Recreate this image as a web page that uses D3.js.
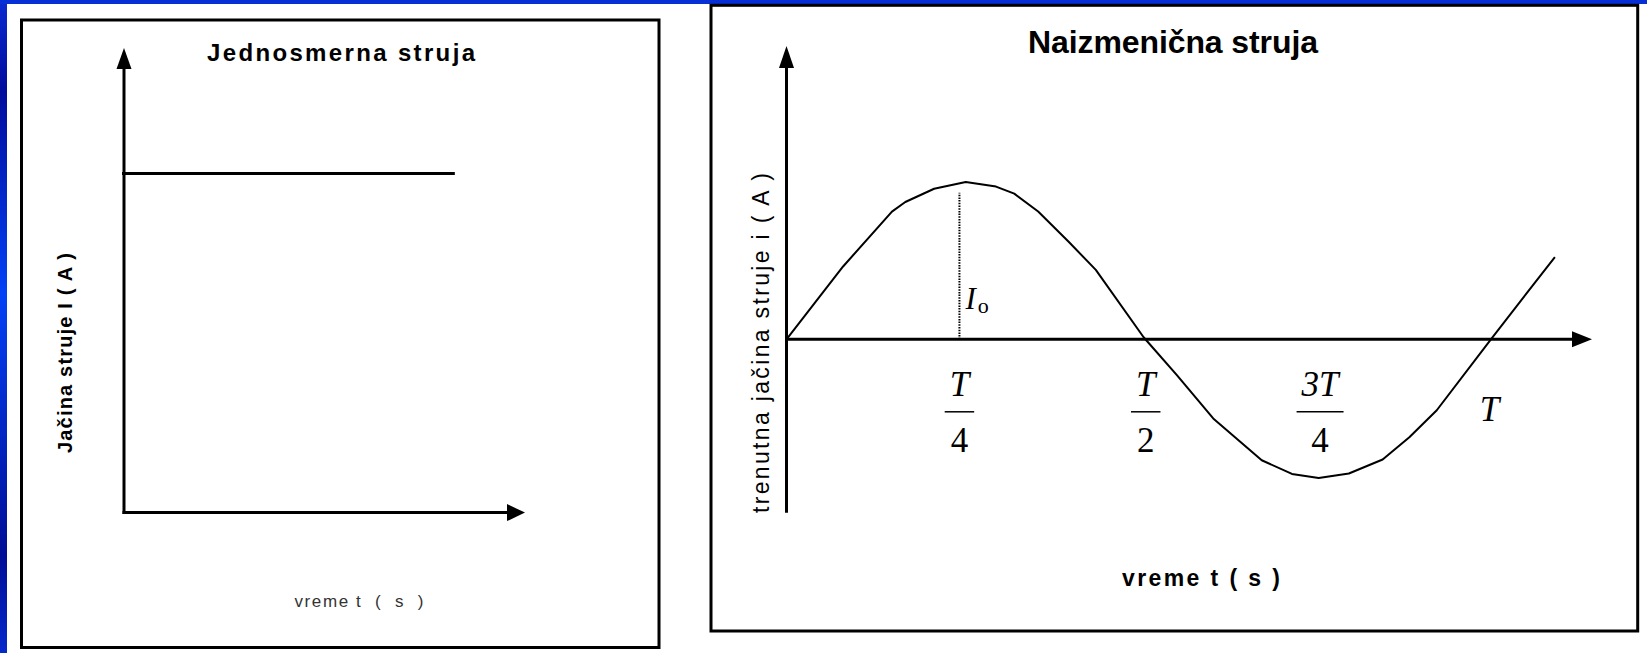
<!DOCTYPE html>
<html>
<head>
<meta charset="utf-8">
<script src="https://cdn.jsdelivr.net/npm/d3@7"></script>
<style>
  html, body { margin: 0; padding: 0; background: #fff; overflow: hidden; }
  svg { display: block; }
  .sans { font-family: "Liberation Sans", Arial, Helvetica, sans-serif; }
  .serif { font-family: "Liberation Serif", "Times New Roman", serif; }
</style>
</head>
<body>
<svg id="chart" width="1647" height="653"></svg>
<script>
// Jednosmerna struja: konstantna jačina (u jedinicama I)
const dcTime = [0, 0.83];
const dcCurrent = [1, 1];

// Naizmenična struja: očitane tačke krive (t u jedinicama T, i u jedinicama Io)
const acTime = [0, 0.0805, 0.150, 0.169, 0.210, 0.255, 0.298, 0.324, 0.358, 0.401, 0.440,
  0.508, 0.555, 0.607, 0.676, 0.719, 0.757, 0.800, 0.848, 0.886, 0.925, 1.002, 1.093];
const acCurrent = [0, 0.463, 0.812, 0.873, 0.957, 1.0, 0.971, 0.926, 0.812, 0.622, 0.441,
  0.013, -0.226, -0.503, -0.769, -0.856, -0.882, -0.853, -0.764, -0.623, -0.451, 0, 0.523];

// Oznake na vremenskoj osi
const acTickNum = ['T', 'T', '3T'];
const acTickDen = ['4', '2', '4'];
const acTickValues = [0.246, 0.511, 0.759];
const acPeriodLabel = 'T';
const acPeriodValue = 1.0;
const amplitudeAt = 0.246;
const amplitudeTop = 0.932;

const svg = d3.select('#chart');

// Pozadina slajda: plava traka levo i gore
const defs = svg.append('defs');
const grad = defs.append('linearGradient').attr('id', 'slideBlue').attr('x1', 0).attr('x2', 0).attr('y1', 0).attr('y2', 1);
[[0, '#0b2ad2'], [0.14, '#000c9c'], [0.45, '#0342f6'], [0.85, '#000e96'], [1, '#0629cc']].forEach(([o, c]) => {
  grad.append('stop').attr('offset', o).attr('stop-color', c);
});
svg.append('rect').attr('width', 1647).attr('height', 653).attr('fill', 'url(#slideBlue)');
svg.append('rect').attr('x', 0).attr('y', 0).attr('width', 1647).attr('height', 4).attr('fill', '#0630d6');
svg.append('rect').attr('x', 7).attr('y', 4).attr('width', 1640).attr('height', 649).attr('fill', '#fff');

function arrow(g, x1, y1, x2, y2, len = 20, half = 8) {
  const dx = x2 - x1, dy = y2 - y1;
  const L = Math.hypot(dx, dy);
  const ux = dx / L, uy = dy / L;
  const bx = x2 - ux * len, by = y2 - uy * len;
  g.append('line').attr('x1', x1).attr('y1', y1).attr('x2', bx + ux * 2).attr('y2', by + uy * 2)
    .attr('stroke', '#000').attr('stroke-width', 3);
  g.append('path')
    .attr('d', `M${x2},${y2}L${bx - uy * half},${by + ux * half}L${bx + uy * half},${by - ux * half}Z`)
    .attr('fill', '#000');
}

// ---------- Levi grafikon ----------
const left = svg.append('g');
left.append('rect').attr('x', 21.5).attr('y', 20).attr('width', 637.5).attr('height', 627.5)
  .attr('fill', '#fff').attr('stroke', '#000').attr('stroke-width', 3);

const xDC = d3.scaleLinear().domain([0, 1]).range([124, 525]);
const yDC = d3.scaleLinear().domain([0, 1]).range([512.6, 173.5]);

arrow(left, xDC(0), yDC(0) + 1.5, xDC(0), yDC(1.37), 21, 7.5);
arrow(left, xDC(0) - 1.5, yDC(0), xDC(1), yDC(0), 18, 8.5);

left.append('path')
  .datum(dcTime.map((t, i) => [t, dcCurrent[i]]))
  .attr('d', d3.line().x(d => xDC(d[0])).y(d => yDC(d[1])))
  .attr('transform', 'translate(-2,0)')
  .attr('fill', 'none').attr('stroke', '#000').attr('stroke-width', 3);

left.append('text').attr('class', 'sans')
  .attr('x', 341).attr('y', 61).attr('text-anchor', 'middle')
  .attr('font-size', 24).attr('font-weight', 'bold')
  .attr('textLength', 268)
  .text('Jednosmerna struja');

left.append('text').attr('class', 'sans')
  .attr('transform', 'translate(72,353) rotate(-90)')
  .attr('text-anchor', 'middle')
  .attr('font-size', 20).attr('font-weight', 'bold')
  .attr('textLength', 200)
  .text('Jačina struje I ( A )');

left.append('text').attr('class', 'sans')
  .attr('x', 359).attr('y', 607).attr('text-anchor', 'middle')
  .attr('font-size', 17).attr('fill', '#333')
  .attr('textLength', 129)
  .style('white-space', 'pre')
  .text('vreme t  (  s  )');

// ---------- Desni grafikon ----------
const right = svg.append('g');
right.append('rect').attr('x', 711).attr('y', 5.3).attr('width', 926.7).attr('height', 625.7)
  .attr('fill', '#fff').attr('stroke', '#000').attr('stroke-width', 3);

const xAC = d3.scaleLinear().domain([0, 1]).range([786.5, 1489.5]);
const yAC = d3.scaleLinear().domain([0, 1]).range([339.3, 182]);

arrow(right, xAC(0), yAC(-1.102), xAC(0), yAC(1.865), 22, 7.5);
arrow(right, xAC(0) - 1.5, yAC(0), xAC(1.1458), yAC(0), 20, 8);

// isprekidana linija amplitude
right.append('line')
  .attr('x1', xAC(amplitudeAt)).attr('x2', xAC(amplitudeAt))
  .attr('y1', yAC(0)).attr('y2', yAC(amplitudeTop))
  .attr('stroke', '#000').attr('stroke-width', 2).attr('stroke-dasharray', '1.5 1.2');

right.append('path')
  .datum(acTime.map((t, i) => [t, acCurrent[i]]))
  .attr('d', d3.line().x(d => xAC(d[0])).y(d => yAC(d[1])))
  .attr('fill', 'none').attr('stroke', '#000').attr('stroke-width', 2)
  .attr('stroke-linejoin', 'round');

const io = right.append('text').attr('class', 'serif')
  .attr('x', xAC(amplitudeAt) + 6).attr('y', 309);
io.append('tspan').attr('font-size', 31).attr('font-style', 'italic').text('I');
io.append('tspan').attr('font-size', 22).attr('dx', 2).attr('dy', 4).text('o');

// razlomci ispod ose
const ticks = right.selectAll('g.frac')
  .data(acTickValues.map((v, i) => ({ v, num: acTickNum[i], den: acTickDen[i] })))
  .join('g')
  .attr('class', 'frac serif')
  .attr('transform', d => `translate(${xAC(d.v)},${yAC(0)})`);
ticks.append('text')
  .attr('class', 'num')
  .attr('y', 57).attr('text-anchor', 'middle')
  .attr('font-size', 35).attr('font-style', 'italic')
  .text(d => d.num);
ticks.append('text')
  .attr('y', 112.4).attr('text-anchor', 'middle')
  .attr('font-size', 35)
  .text(d => d.den);
ticks.each(function () {
  const g = d3.select(this);
  const w = g.select('text.num').node().getComputedTextLength() + 10;
  g.append('line').attr('x1', -w / 2).attr('x2', w / 2).attr('y1', 72.5).attr('y2', 72.5)
    .attr('stroke', '#000').attr('stroke-width', 1.5);
});

right.append('text').attr('class', 'serif')
  .attr('x', xAC(acPeriodValue)).attr('y', yAC(0) + 82).attr('text-anchor', 'middle')
  .attr('font-size', 35).attr('font-style', 'italic')
  .text(acPeriodLabel);

right.append('text').attr('class', 'sans')
  .attr('x', 1173).attr('y', 53).attr('text-anchor', 'middle')
  .attr('font-size', 32).attr('font-weight', 'bold')
  .attr('textLength', 290)
  .text('Naizmenična struja');

right.append('text').attr('class', 'sans')
  .attr('transform', 'translate(769,343) rotate(-90)')
  .attr('text-anchor', 'middle')
  .attr('font-size', 23)
  .attr('textLength', 340)
  .text('trenutna jačina struje i ( A )');

right.append('text').attr('class', 'sans')
  .attr('x', 1201).attr('y', 586).attr('text-anchor', 'middle')
  .attr('font-size', 23).attr('font-weight', 'bold')
  .attr('textLength', 158)
  .text('vreme t ( s )');
</script>
</body>
</html>
